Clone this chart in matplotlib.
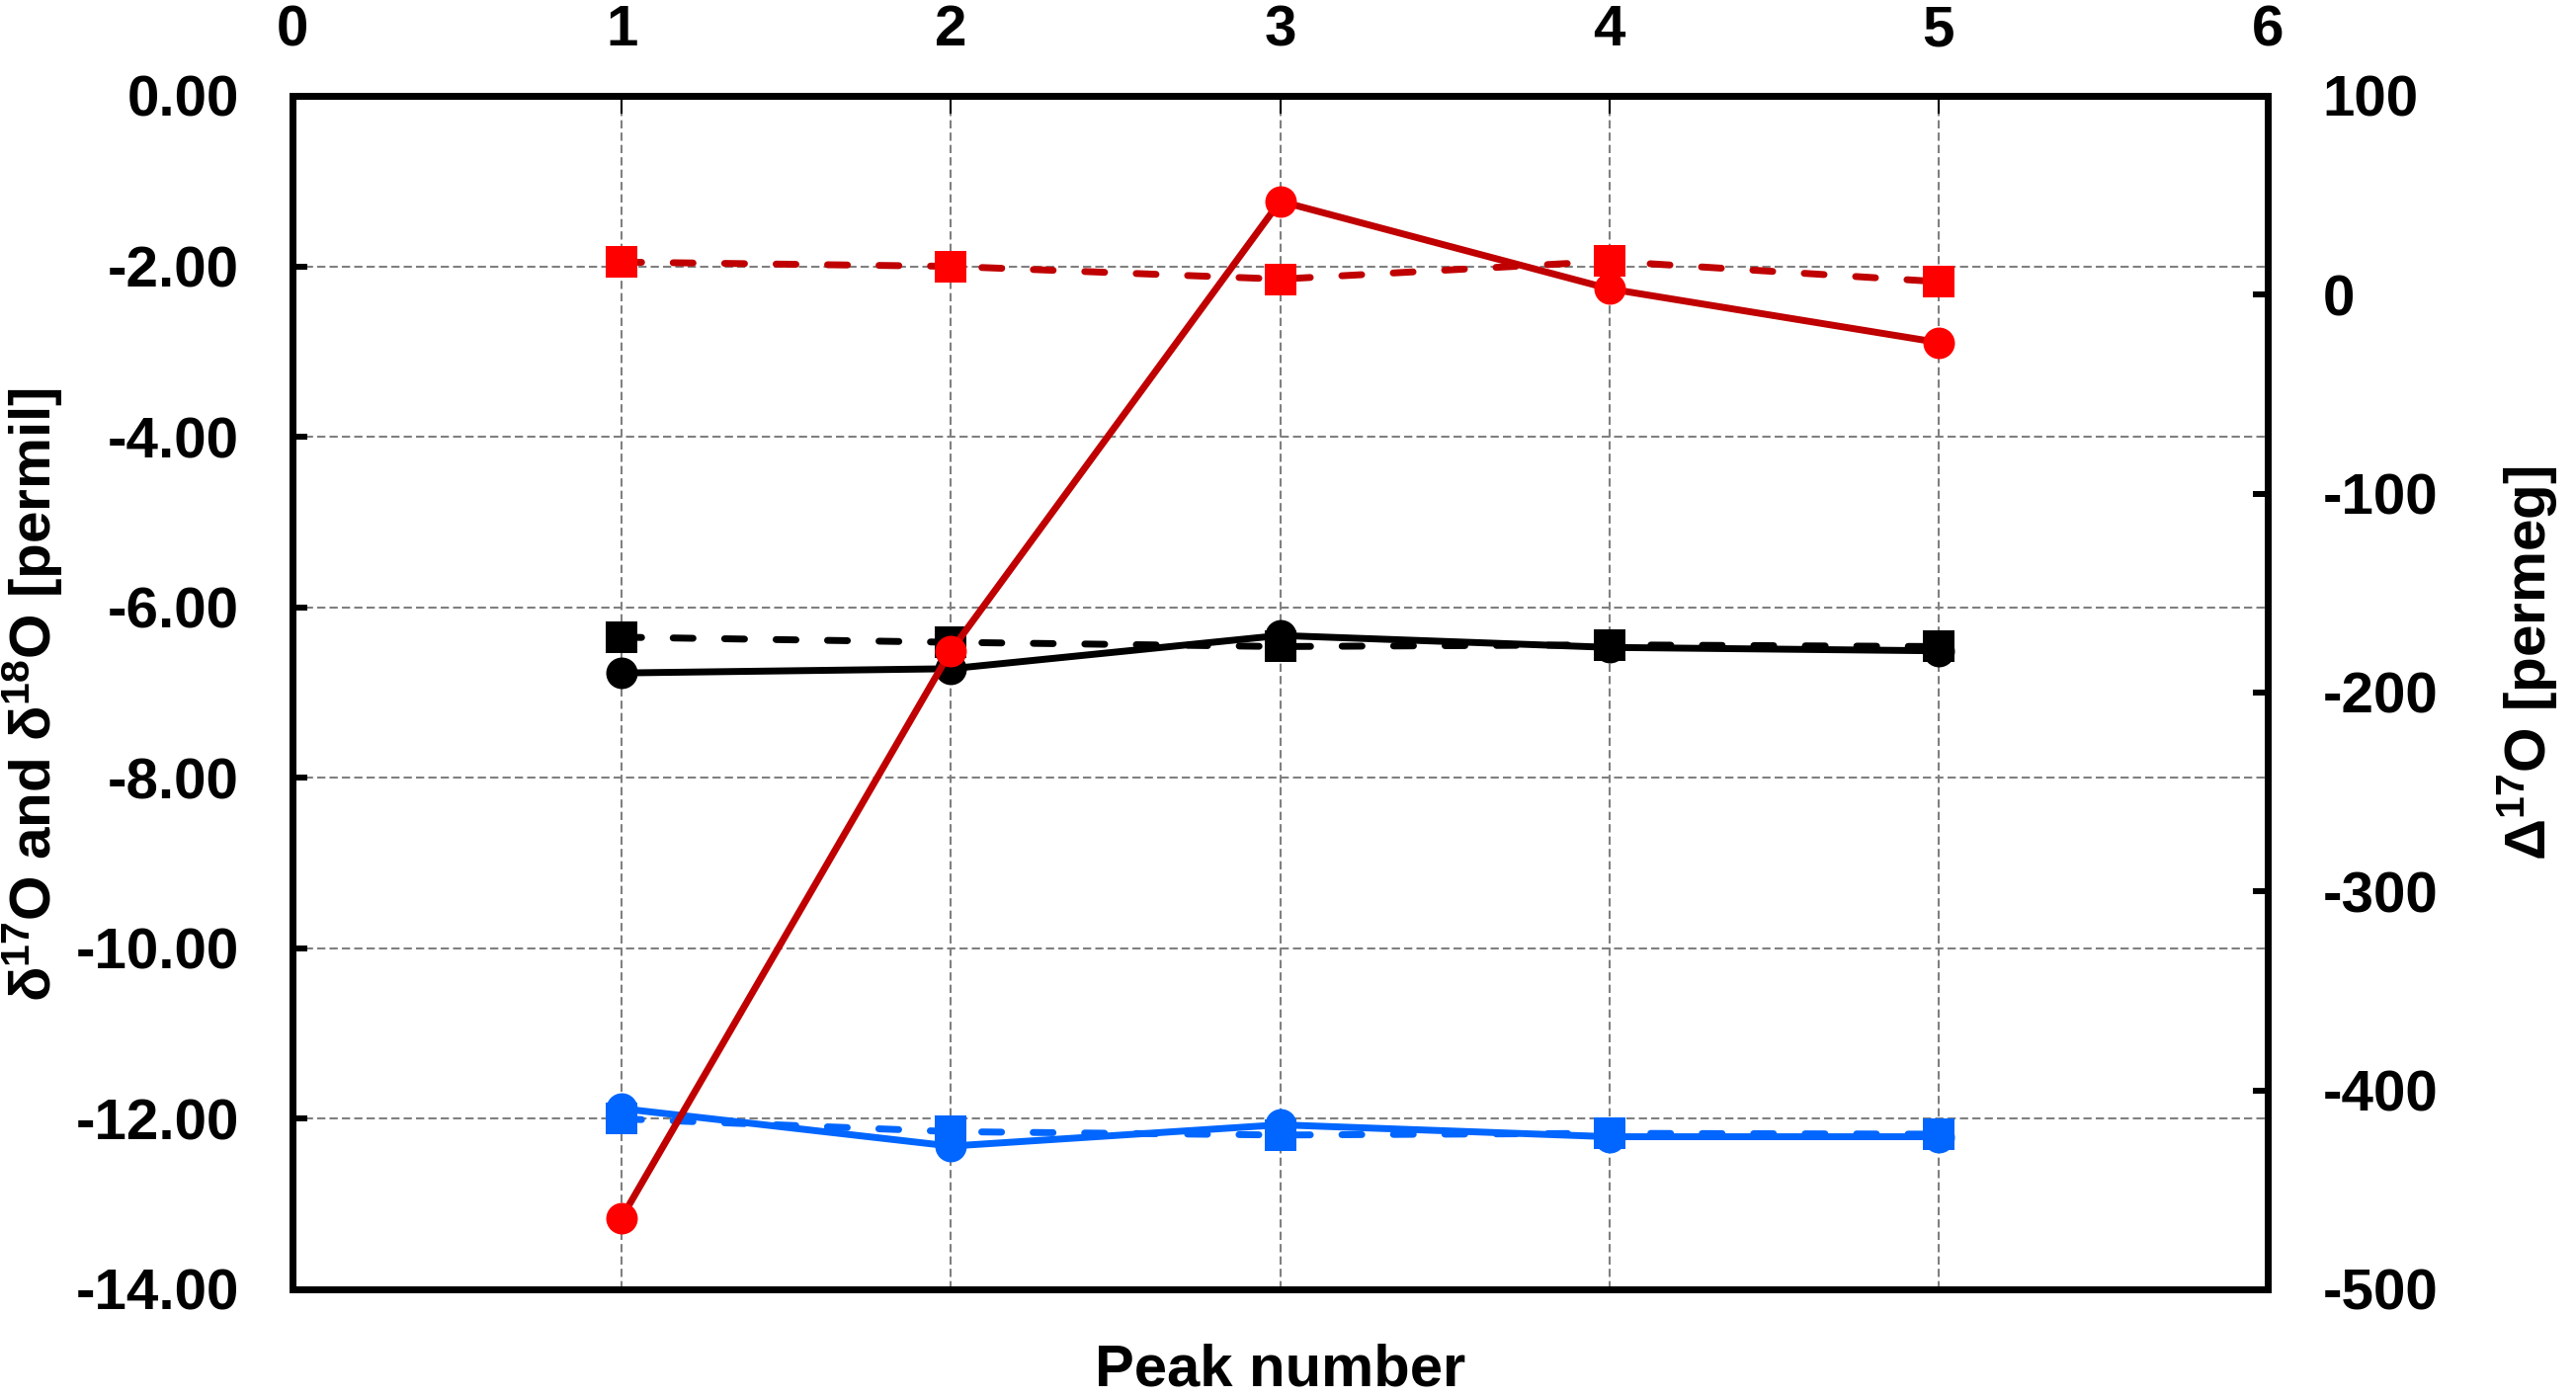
import numpy as np
import matplotlib
matplotlib.use('Agg')
import matplotlib.pyplot as plt

plt.rcParams['font.family'] = ['Liberation Sans', 'DejaVu Sans']
plt.rcParams['font.weight'] = 'bold'
plt.rcParams['axes.unicode_minus'] = False
plt.rcParams['mathtext.fontset'] = 'custom'
plt.rcParams['mathtext.rm'] = 'Liberation Sans:bold'
plt.rcParams['mathtext.bf'] = 'Liberation Sans:bold'
plt.rcParams['mathtext.it'] = 'Liberation Sans:bold'
plt.rcParams['mathtext.default'] = 'rm'

# peak numbers
peaks = [1, 2, 3, 4, 5]

# left axis (permil)
red_sq = [-1.95, -2.00, -2.15, -1.94, -2.18]
black_sq = [-6.35, -6.41, -6.46, -6.44, -6.46]
black_ci = [-6.77, -6.72, -6.33, -6.47, -6.51]
blue_sq = [-12.00, -12.15, -12.19, -12.17, -12.18]
blue_ci = [-11.88, -12.32, -12.07, -12.21, -12.21]

# right axis (permeg)
red_ci = [-464, -179, 47, 3, -24]

x_ticks = [0, 1, 2, 3, 4, 5, 6]
left_ticks = [0, -2, -4, -6, -8, -10, -12, -14]
right_ticks = [100, 0, -100, -200, -300, -400, -500]

fig = plt.figure(figsize=(26.07, 14.15), dpi=100)
ax = fig.add_axes([296/2607, 1 - 1305/1415, (2295-296)/2607, (1305-97)/1415])
ax2 = ax.twinx()

lw = 5
ms = 23
dash = (2.9, 4.6)

def dashed(a, x, y, lc, mc, m):
    line, = a.plot(x, y, color=lc, lw=lw, marker=m, ms=ms, mfc=mc, mec=mc, mew=0,
                   dash_capstyle='round')
    line.set_dashes(dash)
    return line

# blue
ax.plot(peaks, blue_ci, color='#0066FF', lw=lw, marker='o', ms=ms, mew=0, mfc='#0066FF')
dashed(ax, peaks, blue_sq, '#0066FF', '#0066FF', 's')
# black
ax.plot(peaks, black_ci, color='black', lw=lw, marker='o', ms=ms, mew=0, mfc='black')
dashed(ax, peaks, black_sq, 'black', 'black', 's')
# red dashed squares
dashed(ax, peaks, red_sq, '#C00000', '#FF0000', 's')
# red solid circles on right axis
ax2.plot(peaks, red_ci, color='#C00000', lw=lw, marker='o', ms=ms, mew=0, mfc='#FF0000')

ax.set_xlim(0, 6)
ax.set_ylim(-14, 0)
ax2.set_ylim(-500, 100)

ax.set_xticks(x_ticks)
ax.set_yticks(left_ticks)
ax.set_yticklabels(['%.2f' % v for v in left_ticks])
ax2.set_yticks(right_ticks)
ax2.set_yticklabels(['%d' % v for v in right_ticks])

# grid
for v in x_ticks[1:-1]:
    ax.axvline(v, color='#808080', lw=1.5, dashes=(4, 2), zorder=0.5)
for v in left_ticks[1:-1]:
    ax.axhline(v, color='#808080', lw=1.5, dashes=(4, 2), zorder=0.5)

ax.xaxis.tick_top()
ax.tick_params(axis='x', direction='in', length=13, width=1.5, top=True, bottom=False,
               labeltop=True, labelbottom=False, labelsize=42, pad=28)
ax.tick_params(axis='y', direction='in', length=11, width=4.3, labelsize=42, pad=39)
ax2.tick_params(axis='y', direction='in', length=11, width=4.3, labelsize=42, pad=40)

for a in (ax, ax2):
    for s in a.spines.values():
        s.set_linewidth(5)

ax.set_xlabel('Peak number', fontsize=43, fontweight='bold', labelpad=39)
ax.xaxis.set_label_position('bottom')
ax.set_ylabel(r'δ$^{17}$O and δ$^{18}$O [permil]', fontsize=42, fontweight='bold')
ax.yaxis.set_label_coords(-0.115, 0.498)
ax2.set_ylabel(r'Δ$^{17}$O [permeg]', fontsize=42, fontweight='bold')
ax2.yaxis.set_label_coords(1.115, 0.525)

fig.savefig('out.png', dpi=100)
